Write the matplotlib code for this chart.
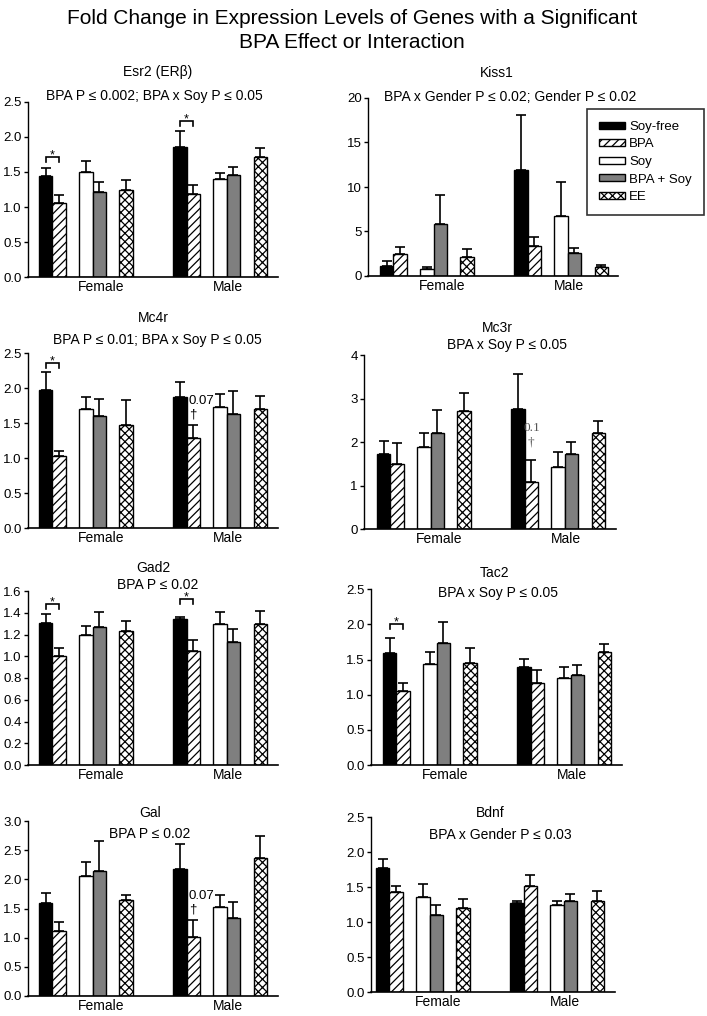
import matplotlib
matplotlib.use("Agg")
import matplotlib.pyplot as plt
from matplotlib.patches import Patch

plt.rcParams['font.family'] = ['Liberation Sans', 'DejaVu Sans']
plt.rcParams['hatch.linewidth'] = 0.9

W, H = 707, 1016

# --- data ---
diets = ['Soy-free', 'BPA', 'Soy', 'BPA + Soy', 'EE']
groups = ['Female', 'Male']

esr2_f = [1.44, 1.06, 1.50, 1.21, 1.25]
esr2_f_sem = [0.11, 0.11, 0.16, 0.14, 0.13]
esr2_m = [1.86, 1.19, 1.40, 1.45, 1.71]
esr2_m_sem = [0.22, 0.12, 0.08, 0.12, 0.13]

kiss1_f = [1.13, 2.42, 0.75, 5.81, 2.11]
kiss1_f_sem = [0.61, 0.86, 0.23, 3.28, 0.91]
kiss1_m = [11.89, 3.36, 6.75, 2.57, 1.02]
kiss1_m_sem = [6.21, 0.98, 3.82, 0.52, 0.18]

mc4r_f = [1.98, 1.04, 1.71, 1.60, 1.48]
mc4r_f_sem = [0.26, 0.07, 0.16, 0.25, 0.36]
mc4r_m = [1.88, 1.29, 1.73, 1.64, 1.70]
mc4r_m_sem = [0.21, 0.19, 0.19, 0.32, 0.19]

mc3r_f = [1.73, 1.51, 1.90, 2.22, 2.71]
mc3r_f_sem = [0.30, 0.48, 0.30, 0.51, 0.42]
mc3r_m = [2.76, 1.09, 1.42, 1.73, 2.21]
mc3r_m_sem = [0.81, 0.49, 0.35, 0.27, 0.28]

gad2_f = [1.31, 1.00, 1.20, 1.27, 1.23]
gad2_f_sem = [0.075, 0.078, 0.08, 0.14, 0.097]
gad2_m = [1.34, 1.045, 1.30, 1.13, 1.30]
gad2_m_sem = [0.02, 0.104, 0.11, 0.12, 0.115]

tac2_f = [1.59, 1.06, 1.44, 1.74, 1.45]
tac2_f_sem = [0.21, 0.10, 0.17, 0.30, 0.21]
tac2_m = [1.39, 1.17, 1.24, 1.28, 1.61]
tac2_m_sem = [0.12, 0.18, 0.15, 0.14, 0.11]

gal_f = [1.59, 1.11, 2.06, 2.15, 1.65]
gal_f_sem = [0.18, 0.16, 0.23, 0.51, 0.08]
gal_m = [2.18, 1.01, 1.53, 1.33, 2.36]
gal_m_sem = [0.43, 0.29, 0.20, 0.29, 0.39]

bdnf_f = [1.77, 1.43, 1.36, 1.10, 1.20]
bdnf_f_sem = [0.14, 0.09, 0.19, 0.15, 0.13]
bdnf_m = [1.27, 1.52, 1.25, 1.30, 1.30]
bdnf_m_sem = [0.03, 0.15, 0.05, 0.11, 0.15]

genes = ['Esr2 (ERβ)', 'Kiss1', 'Mc4r', 'Mc3r', 'Gad2', 'Tac2', 'Gal', 'Bdnf']
stats = ['BPA P ≤ 0.002; BPA x Soy P ≤ 0.05',
         'BPA x Gender P ≤ 0.02; Gender P ≤ 0.02',
         'BPA P ≤ 0.01; BPA x Soy P ≤ 0.05',
         'BPA x Soy P ≤ 0.05',
         'BPA P ≤ 0.02',
         'BPA x Soy P ≤ 0.05',
         'BPA P ≤ 0.02',
         'BPA x Gender P ≤ 0.03']
ymax = [2.5, 20, 2.5, 4, 1.6, 2.5, 3.0, 2.5]
ystep = [0.5, 5, 0.5, 1, 0.2, 0.5, 0.5, 0.5]
yfmt = ['%.1f', '%d', '%.1f', '%d', '%.1f', '%.1f', '%.1f', '%.1f']

female = [esr2_f, kiss1_f, mc4r_f, mc3r_f, gad2_f, tac2_f, gal_f, bdnf_f]
female_sem = [esr2_f_sem, kiss1_f_sem, mc4r_f_sem, mc3r_f_sem,
              gad2_f_sem, tac2_f_sem, gal_f_sem, bdnf_f_sem]
male = [esr2_m, kiss1_m, mc4r_m, mc3r_m, gad2_m, tac2_m, gal_m, bdnf_m]
male_sem = [esr2_m_sem, kiss1_m_sem, mc4r_m_sem, mc3r_m_sem,
            gad2_m_sem, tac2_m_sem, gal_m_sem, bdnf_m_sem]

# significance brackets (Soy-free vs BPA): panel index, group index, bracket height
sig_panel = [0, 0, 2, 4, 4, 5]
sig_group = [0, 1, 0, 0, 1, 0]
sig_level = [1.71, 2.22, 2.36, 1.48, 1.525, 2.00]

# trend notes above the male BPA bar: panel, label, label y, dagger y
trend_panel = [2, 3, 6]
trend_text = ['0.07', '0.1', '0.07']
trend_y = [1.82, 2.32, 1.72]
dagger_y = [1.62, 2.00, 1.49]

# --- layout in pixels: axis x0, x1, first bar left, top, bottom ---
boxes = [(28, 278, 39, 101.7, 277.3),
         (368, 618, 380, 98, 276),
         (28, 278, 39, 353.3, 528.3),
         (364, 616, 377, 355, 529.3),
         (28, 278, 39, 591, 765),
         (371, 622, 383, 589.3, 765),
         (28, 278, 39, 821, 996),
         (371, 615, 376, 817.3, 992.3)]
title_xy = [(158, 72), (497, 73), (153, 318), (497, 328),
            (153, 568), (495, 573), (150, 813), (490, 813)]
sub_xy = [(154, 96), (510, 97), (157, 340), (507, 345),
          (158, 585), (498, 593), (150, 834), (500, 835)]

bar_w_px = 228 / 17.0
offsets = [0, 1, 3, 4, 6]
group_start = [0, 10]
faces = ['black', 'white', 'white', '#7f7f7f', 'white']
hatches = ['', '////', '', '', 'xxxx']

fig = plt.figure(figsize=(W / 100, H / 100), dpi=100)

fig.text(352 / W, 1 - 19 / H, 'Fold Change in Expression Levels of Genes with a Significant',
         ha='center', va='center', fontsize=15)
fig.text(352 / W, 1 - 43 / H, 'BPA Effect or Interaction',
         ha='center', va='center', fontsize=15)

axes = []
for i, (x0, x1, bx, yt, yb) in enumerate(boxes):
    ax = fig.add_axes([x0 / W, 1 - yb / H, (x1 - x0) / W, (yb - yt) / H])
    axes.append(ax)
    for g, (vals, errs) in enumerate([(female[i], female_sem[i]), (male[i], male_sem[i])]):
        for k in range(5):
            x = group_start[g] + offsets[k]
            ax.bar(x, vals[k], width=1.0, align='edge', color=faces[k],
                   edgecolor='black', linewidth=1.0, hatch=hatches[k], zorder=2)
        xs = [group_start[g] + o + 0.5 for o in offsets]
        ax.errorbar(xs, vals, yerr=[[0] * 5, errs], fmt='none', ecolor='black',
                    elinewidth=1.2, capsize=3.8, capthick=1.2, zorder=3)
    ax.set_xlim((x0 - bx) / bar_w_px, (x1 - bx) / bar_w_px)
    ax.set_ylim(0, ymax[i])
    n = int(round(ymax[i] / ystep[i]))
    ticks = [ystep[i] * t for t in range(n + 1)]
    ax.set_yticks(ticks)
    ax.set_yticklabels([yfmt[i] % t for t in ticks])
    ax.set_xticks([4.6, 14.1])
    ax.set_xticklabels(groups)
    ax.tick_params(axis='x', length=0, labelsize=10, pad=2)
    ax.tick_params(axis='y', direction='out', length=3, width=1, labelsize=9.5, pad=1.5)
    ax.spines['top'].set_visible(False)
    ax.spines['right'].set_visible(False)
    ax.spines['left'].set_linewidth(1.0)
    ax.spines['bottom'].set_linewidth(1.2)

    tx, ty = title_xy[i]
    fig.text(tx / W, 1 - ty / H, genes[i], ha='center', va='center', fontsize=10)
    sx, sy = sub_xy[i]
    fig.text(sx / W, 1 - sy / H, stats[i], ha='center', va='center', fontsize=10)

for p, g, lev in zip(sig_panel, sig_group, sig_level):
    ax = axes[p]
    x0, x1, bx, yt, yb = boxes[p]
    leg = 4.5 * ymax[p] / (yb - yt)
    xa = group_start[g] + 0.5
    xb = group_start[g] + 1.5
    ax.plot([xa, xa, xb, xb], [lev - leg, lev, lev, lev - leg], color='black',
            linewidth=1.2, solid_joinstyle='miter', zorder=4)
    ax.annotate('*', xy=((xa + xb) / 2, lev), xytext=(0, -3.0), textcoords='offset points',
                ha='center', va='bottom', fontsize=9)

for p, t, ty, dy in zip(trend_panel, trend_text, trend_y, dagger_y):
    ax = axes[p]
    if t == '0.1':
        ax.text(11.55, ty, t, ha='center', va='center', fontsize=9.5,
                family=['Liberation Serif', 'DejaVu Serif'], color='#555555')
        ax.text(11.5, dy, '†', ha='center', va='center', fontsize=9.5,
                family=['Liberation Serif', 'DejaVu Serif'], color='#555555')
    else:
        ax.text(12.08, ty, t, ha='center', va='center', fontsize=9.5)
        ax.text(11.5, dy, '†', ha='center', va='center', fontsize=9.5)

handles = [Patch(facecolor=faces[k], edgecolor='black', hatch=hatches[k], linewidth=1.0)
           for k in range(5)]
leg = fig.legend(handles, diets, loc='upper left', bbox_to_anchor=(587 / W, 1 - 109 / H),
                 frameon=True, fancybox=False, edgecolor='black', fontsize=9.5,
                 handlelength=2.0, handleheight=0.45, handletextpad=0.3,
                 labelspacing=0.42, borderpad=0.9, borderaxespad=0)
leg.get_frame().set_linewidth(1.2)

fig.savefig('out.png', dpi=100)
